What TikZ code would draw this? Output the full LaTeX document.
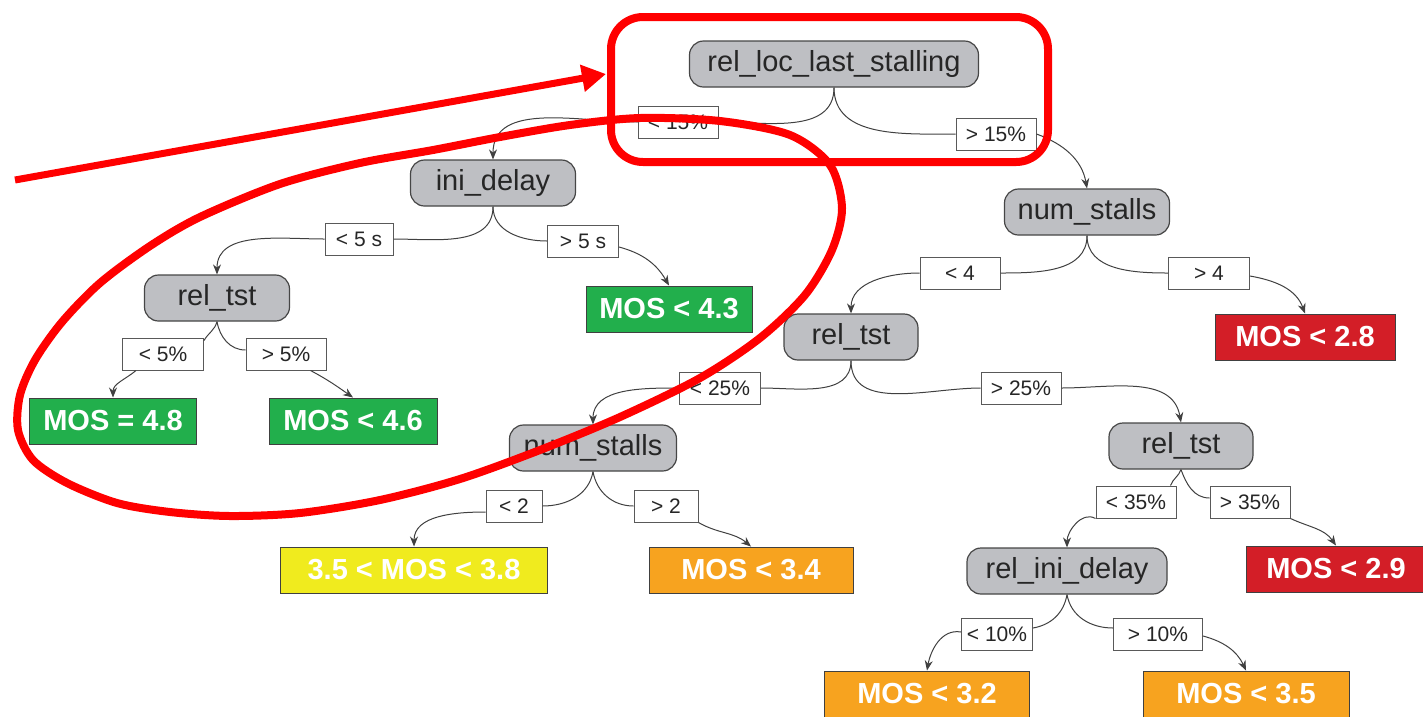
\documentclass[tikz,border=0pt]{standalone}
\usepackage{fontspec}
\setmainfont{Liberation Sans}
\usetikzlibrary{arrows.meta}
\definecolor{splitgray}{RGB}{190,191,195}
\definecolor{splitline}{RGB}{70,70,70}
\definecolor{mosgreen}{RGB}{34,175,76}
\definecolor{mosred}{RGB}{211,30,39}
\definecolor{mosyellow}{RGB}{240,235,30}
\definecolor{mosorange}{RGB}{247,163,31}
\definecolor{markred}{RGB}{255,0,0}
\tikzset{
  split/.style={draw=splitline,fill=splitgray,rounded corners=14pt,line width=1.2pt,minimum height=46pt,inner sep=0pt,text=black!85,font=\fontsize{29}{34}\selectfont},
  cond/.style={draw=black!65,fill=white,line width=1pt,minimum height=32pt,inner sep=0pt,text=black!85,font=\fontsize{21}{25}\selectfont},
  leaf/.style={draw=black!75,line width=1pt,minimum height=46pt,inner sep=0pt,text=white,font=\fontsize{29}{34}\selectfont\bfseries},
  branch/.style={draw=black!75,line width=1pt},
  arr/.style={branch,-{Stealth[length=10pt,width=8pt]}},
  hilite/.style={draw=markred,line width=8pt}
}
\begin{document}
\begin{tikzpicture}[x=1pt,y=1pt]
\useasboundingbox (0,0) rectangle (1423,-716);
% split nodes
\node[split,minimum width=289pt] (root) at (834,-64) {rel\_loc\_last\_stalling};
\node[split,minimum width=165pt] (ini) at (493,-183) {ini\_delay};
\node[split,minimum width=165pt] (ns1) at (1087,-212) {num\_stalls};
\node[split,minimum width=145pt] (rt1) at (217,-298) {rel\_tst};
\node[split,minimum width=134pt] (rt2) at (851,-337) {rel\_tst};
\node[split,minimum width=167pt] (ns2) at (593,-448) {num\_stalls};
\node[split,minimum width=144pt] (rt3) at (1181,-446) {rel\_tst};
\node[split,minimum width=200pt] (rid) at (1067,-571) {rel\_ini\_delay};
% leaves
\node[leaf,fill=mosgreen,minimum width=166pt] (m43) at (669,-309) {MOS < 4.3};
\node[leaf,fill=mosred,minimum width=180pt] (m28) at (1305,-337) {MOS < 2.8};
\node[leaf,fill=mosgreen,minimum width=167pt] (m48) at (113,-421) {MOS = 4.8};
\node[leaf,fill=mosgreen,minimum width=168pt] (m46) at (353,-421) {MOS < 4.6};
\node[leaf,fill=mosyellow,minimum width=267pt] (m38) at (414,-570) {3.5 < MOS < 3.8};
\node[leaf,fill=mosorange,minimum width=204pt] (m34) at (751,-570) {MOS < 3.4};
\node[leaf,fill=mosred,minimum width=180pt] (m29) at (1336,-569) {MOS < 2.9};
\node[leaf,fill=mosorange,minimum width=205pt] (m32) at (927,-694) {MOS < 3.2};
\node[leaf,fill=mosorange,minimum width=206pt] (m35) at (1246,-694) {MOS < 3.5};
% conditions
\node[cond,minimum width=80pt] (c15a) at (678,-122) {< 15\%};
\node[cond,minimum width=80pt] (c15b) at (996,-134) {> 15\%};
\node[cond,minimum width=68pt] (c5sa) at (359,-239) {< 5 s};
\node[cond,minimum width=71pt] (c5sb) at (583,-241) {> 5 s};
\node[cond,minimum width=80pt] (c4a) at (960,-273) {< 4};
\node[cond,minimum width=81pt] (c4b) at (1209,-273) {> 4};
\node[cond,minimum width=81pt] (c5pa) at (163,-354) {< 5\%};
\node[cond,minimum width=80pt] (c5pb) at (286,-354) {> 5\%};
\node[cond,minimum width=81pt] (c25a) at (720,-388) {< 25\%};
\node[cond,minimum width=80pt] (c25b) at (1021,-388) {> 25\%};
\node[cond,minimum width=56pt] (c2a) at (514,-506) {< 2};
\node[cond,minimum width=64pt] (c2b) at (666,-506) {> 2};
\node[cond,minimum width=80pt] (c35a) at (1136,-502) {< 35\%};
\node[cond,minimum width=80pt] (c35b) at (1250,-502) {> 35\%};
\node[cond,minimum width=71pt] (c10a) at (997,-634) {< 10\%};
\node[cond,minimum width=89pt] (c10b) at (1158,-634) {> 10\%};
% branches
\draw[branch] (root.south) to[out=-90,in=0] (c15a.east);
\draw[arr] (c15a.west) to[out=180,in=90] (ini.north);
\draw[branch] (root.south) to[out=-90,in=180] (c15b.west);
\draw[arr] (c15b.east) to[out=-20,in=100] (ns1.north);
\draw[branch] (ini.south) to[out=-90,in=0] (c5sa.east);
\draw[arr] (c5sa.west) to[out=180,in=90] (rt1.north);
\draw[branch] (ini.south) to[out=-90,in=180] (c5sb.west);
\draw[arr] ([yshift=-6pt]c5sb.east) to[out=-15,in=120] (m43.north);
\draw[branch] (ns1.south) to[out=-90,in=0] (c4a.east);
\draw[arr] (c4a.west) to[out=180,in=90] (rt2.north);
\draw[branch] (ns1.south) to[out=-90,in=180] (c4b.west);
\draw[arr] ([yshift=-3pt]c4b.east) to[out=-10,in=110] (m28.north);
\draw[branch] (rt1.south) to[out=-105,in=60] ([yshift=-3pt]c5pa.north east);
\draw[arr] ([xshift=14pt]c5pa.south west) to[out=-140,in=90] (m48.north);
\draw[branch] (rt1.south) to[out=-80,in=180] ([yshift=4pt]c5pb.west);
\draw[arr] ([xshift=-16pt]c5pb.south east) to[out=-28,in=145] (m46.north);
\draw[branch] (rt2.south) to[out=-90,in=0] (c25a.east);
\draw[arr] (c25a.west) to[out=180,in=90] (ns2.north);
\draw[branch] (rt2.south) to[out=-90,in=180] (c25b.west);
\draw[arr] (c25b.east) to[out=0,in=100] (rt3.north);
\draw[branch] (ns2.south) to[out=-100,in=0] (c2a.east);
\draw[arr] ([yshift=-6pt]c2a.west) to[out=180,in=90] (m38.north);
\draw[branch] (ns2.south) to[out=-80,in=180] (c2b.west);
\draw[arr] (c2b.south east) to[out=-30,in=140] (m34.north);
\draw[branch] (rt3.south) to[out=-110,in=70] ([xshift=-6pt]c35a.north east);
\draw[arr] (c35a.south west) to[out=150,in=90] (rid.north);
\draw[branch] (rt3.south) to[out=-70,in=180] ([yshift=4pt]c35b.west);
\draw[arr] (c35b.south east) to[out=-25,in=125] (m29.north);
\draw[branch] (rid.south) to[out=-100,in=10] ([yshift=6pt]c10a.east);
\draw[arr] ([yshift=2pt]c10a.west) to[out=170,in=80] (m32.north);
\draw[branch] (rid.south) to[out=-80,in=180] ([yshift=6pt]c10b.west);
\draw[arr] ([yshift=-2pt]c10b.east) to[out=-15,in=115] (m35.north);
% highlight
\draw[hilite,rounded corners=32pt] (611,-17) rectangle (1048,-162);
\draw[hilite] plot[smooth cycle] coordinates {(640,-118) (720,-121) (790,-135) (830,-165) (842,-208) (832,-250) (805,-295) (760,-338) (700,-378) (620,-417) (540,-450) (460,-479) (380,-500) (300,-513) (230,-516) (170,-512) (117,-503) (67,-483) (33,-460) (18,-430) (20,-395) (35,-360) (62,-322) (100,-283) (150,-246) (200,-217) (280,-184) (360,-163) (433,-150) (500,-137) (570,-125)};
\coordinate (tail) at (15,-180);
\coordinate (tip) at (606,-74);
\draw[hilite,line width=7pt,-{Triangle[length=24pt,width=26pt]}] (tail) -- (tip);
\end{tikzpicture}
\end{document}
